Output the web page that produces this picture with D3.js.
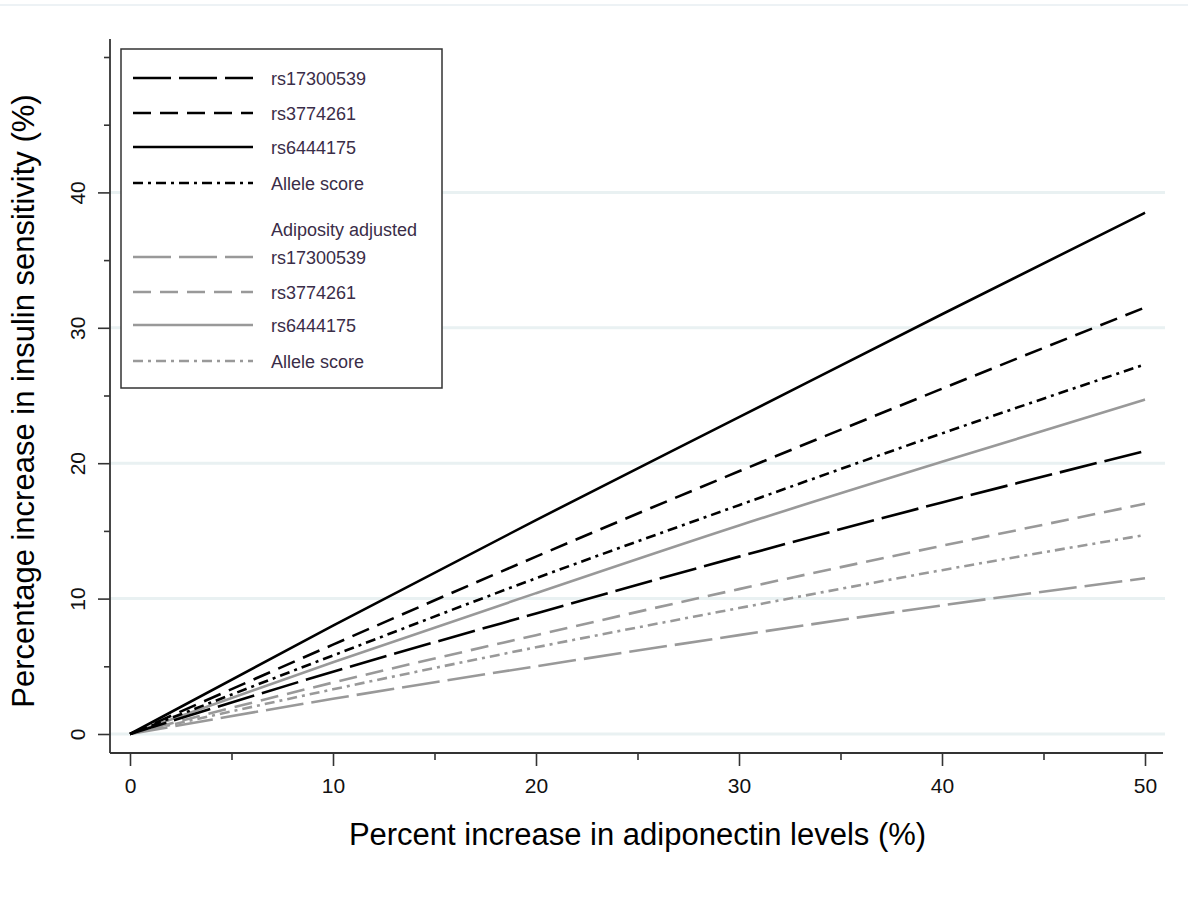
<!DOCTYPE html>
<html>
<head>
<meta charset="utf-8">
<script src="https://cdn.jsdelivr.net/npm/d3@7"></script>
<style>
  body { margin: 0; background: #fff; }
  svg { display: block; }
  text { font-family: "Liberation Sans", Arial, sans-serif; }
</style>
</head>
<body>
<div id="vis"></div>
<script>
var xs = [0, 10, 20, 30, 40, 50];

// unadjusted estimates
var rs17300539 = [0, 4.6, 8.9, 13.1, 17.1, 20.9];
var rs3774261 = [0, 6.6, 13.1, 19.4, 25.5, 31.5];
var rs6444175 = [0, 8.0, 15.8, 23.4, 31.0, 38.5];
var alleleScore = [0, 5.8, 11.5, 16.9, 22.2, 27.3];

// adiposity adjusted estimates
var adjRs17300539 = [0, 2.6, 5.0, 7.3, 9.5, 11.5];
var adjRs3774261 = [0, 3.8, 7.3, 10.7, 13.9, 17.0];
var adjRs6444175 = [0, 5.3, 10.4, 15.4, 20.1, 24.7];
var adjAlleleScore = [0, 3.3, 6.4, 9.3, 12.1, 14.7];

var xMajor = [0, 10, 20, 30, 40, 50];
var xMinor = [5, 15, 25, 35, 45];
var yMajor = [0, 10, 20, 30, 40];
var yMinor = [5, 15, 25, 35, 45, 50];

var W = 1188, H = 905;
var black = "#000", grey = "#999";
var dashLong = "38,8", dashShort = "18,9", dashDot = "10,5,3,5";

var series = [
    { label: "rs17300539", values: rs17300539, color: black, dash: dashLong },
    { label: "rs3774261", values: rs3774261, color: black, dash: dashShort },
    { label: "rs6444175", values: rs6444175, color: black, dash: null },
    { label: "Allele score", values: alleleScore, color: black, dash: dashDot },
    { label: "rs17300539", values: adjRs17300539, color: grey, dash: dashLong },
    { label: "rs3774261", values: adjRs3774261, color: grey, dash: dashShort },
    { label: "rs6444175", values: adjRs6444175, color: grey, dash: null },
    { label: "Allele score", values: adjAlleleScore, color: grey, dash: dashDot }
];

var svg = d3.select("#vis")
    .append("svg")
    .attr("width", W)
    .attr("height", H);

svg.append("rect").attr("width", W).attr("height", H).attr("fill", "#fff");

// faint frame line left over at the top of the page
svg.append("line")
    .attr("x1", 0).attr("x2", W)
    .attr("y1", 5).attr("y2", 5)
    .attr("stroke", "#edf2f5").attr("stroke-width", 2);

var x = d3.scaleLinear().domain([0, 50]).range([130, 1145]);
var y = d3.scaleLinear().domain([0, 50]).range([734, 57]);

var axisLeftX = 110, axisBottomY = 753;

// horizontal grid
svg.append("g")
    .selectAll("line")
    .data(yMajor)
    .enter()
    .append("line")
    .attr("x1", axisLeftX)
    .attr("x2", 1165)
    .attr("y1", d => y(d))
    .attr("y2", d => y(d))
    .attr("stroke", "#e9f1f2")
    .attr("stroke-width", 3);

// curves
var line = d3.line()
    .x((d, i) => x(xs[i]))
    .y(d => y(d))
    .curve(d3.curveMonotoneX);

var plot = svg.append("g");
series.slice().reverse().forEach(function (s) {
    plot.append("path")
        .datum(s.values)
        .attr("d", line)
        .attr("fill", "none")
        .attr("stroke", s.color)
        .attr("stroke-width", 2.6)
        .attr("stroke-dasharray", s.dash);
});

// x axis
var xAxis = svg.append("g")
    .attr("transform", "translate(0," + axisBottomY + ")");
xAxis.append("g")
    .call(d3.axisBottom(x).tickValues(xMinor).tickSize(7).tickFormat(""))
    .call(g => g.select(".domain").remove());
xAxis.append("g")
    .call(d3.axisBottom(x).tickValues(xMajor).tickSize(13))
    .call(g => g.select(".domain").remove())
    .selectAll("text")
    .attr("y", 40)
    .attr("dy", 0)
    .attr("font-size", 21)
    .attr("fill", "#111");
xAxis.selectAll(".tick line").attr("stroke", "#333").attr("stroke-width", 1.6);
xAxis.append("line")
    .attr("x1", axisLeftX).attr("x2", 1163)
    .attr("stroke", "#333").attr("stroke-width", 1.8);

// y axis
var yAxis = svg.append("g")
    .attr("transform", "translate(" + axisLeftX + ",0)");
yAxis.append("g")
    .call(d3.axisLeft(y).tickValues(yMinor).tickSize(6).tickFormat(""))
    .call(g => g.select(".domain").remove());
yAxis.append("g")
    .call(d3.axisLeft(y).tickValues(yMajor).tickSize(12))
    .call(g => g.select(".domain").remove())
    .selectAll("text")
    .attr("x", 0)
    .attr("dy", 0)
    .attr("text-anchor", "middle")
    .attr("transform", "translate(-25,0) rotate(-90)")
    .attr("font-size", 21)
    .attr("fill", "#111");
yAxis.selectAll(".tick line").attr("stroke", "#333").attr("stroke-width", 1.6);
yAxis.append("line")
    .attr("y1", 39).attr("y2", axisBottomY)
    .attr("stroke", "#333").attr("stroke-width", 1.8);

// axis titles
svg.append("text")
    .attr("x", 637.5)
    .attr("y", 845)
    .attr("text-anchor", "middle")
    .attr("font-size", 31)
    .attr("fill", "#000")
    .text("Percent increase in adiponectin levels (%)");

svg.append("text")
    .attr("transform", "translate(34,401) rotate(-90)")
    .attr("text-anchor", "middle")
    .attr("font-size", 31)
    .attr("fill", "#000")
    .text("Percentage increase in insulin sensitivity (%)");

// legend
var legend = svg.append("g");
legend.append("rect")
    .attr("x", 121).attr("y", 49)
    .attr("width", 321).attr("height", 339)
    .attr("fill", "#fff")
    .attr("stroke", "#333")
    .attr("stroke-width", 1.5);

var rowY = [78, 113, 147, 183, 257, 292, 325, 361];

var rows = legend.selectAll(".row")
    .data(series)
    .enter()
    .append("g")
    .attr("class", "row")
    .attr("transform", (d, i) => "translate(0," + rowY[i] + ")");

rows.append("line")
    .attr("x1", 133).attr("x2", 253)
    .attr("stroke", d => d.color)
    .attr("stroke-width", 2.6)
    .attr("stroke-dasharray", d => d.dash);

rows.append("text")
    .attr("x", 271)
    .attr("y", 7)
    .attr("font-size", 18)
    .attr("fill", "#3a2d48")
    .text(d => d.label);

legend.append("text")
    .attr("x", 271)
    .attr("y", 236)
    .attr("font-size", 18)
    .attr("fill", "#3a2d48")
    .text("Adiposity adjusted");
</script>
</body>
</html>
